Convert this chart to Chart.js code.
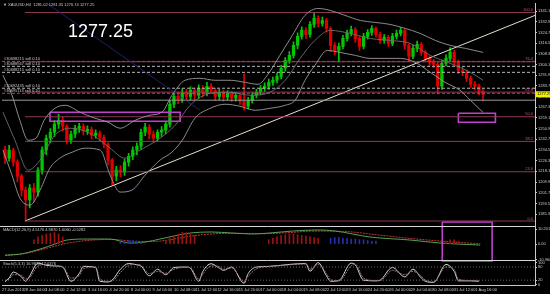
<!DOCTYPE html>
<html><head><meta charset="utf-8">
<script src="https://cdn.jsdelivr.net/npm/chart.js@4.4.1/dist/chart.umd.min.js"></script>
<style>html,body{margin:0;padding:0;background:#000;overflow:hidden}canvas{display:block}</style>
</head><body>
<canvas id="c" width="550" height="294"></canvas>
<script>
// ---------- DATA ----------
const titleText = "\u25BC XAUUSD,H4  1281.02 1281.35 1276.74 1277.25";
const firstOpen = 1235.0;
const closes = [1228.2,1234.4,1225.2,1214.4,1203.7,1196.1,1205.2,1202.2,1219.0,1234.4,
 1243.5,1248.1,1254.3,1257.3,1252.7,1242.0,1246.6,1251.2,1252.7,1248.9,
 1250.4,1245.8,1247.4,1244.3,1238.9,1226.7,1214.4,1219.0,1217.5,1225.2,
 1229.7,1234.4,1237.4,1248.1,1252.0,1246.6,1243.5,1248.1,1249.7,1254.3,
 1269.6,1275.7,1273.4,1278.8,1275.7,1280.3,1276.5,1281.9,1278.0,1283.4,
 1280.3,1275.7,1278.8,1275.0,1278.0,1274.2,1276.5,1271.9,1268.1,1272.7,
 1276.5,1278.8,1281.9,1283.4,1286.4,1288.0,1291.0,1297.2,1303.3,1307.1,
 1314.8,1321.7,1326.3,1323.2,1330.9,1335.5,1331.6,1333.9,1327.8,1314.8,
 1311.0,1314.0,1320.1,1324.0,1327.0,1320.1,1314.0,1321.7,1324.8,1327.8,
 1323.2,1318.6,1320.9,1316.3,1321.7,1324.0,1326.3,1314.8,1306.4,1312.5,
 1315.6,1309.4,1304.8,1301.8,1300.2,1283.4,1301.0,1304.8,1309.4,1301.8,
 1295.6,1294.1,1289.5,1284.9,1283.4,1279.5,1277.25];
const highs = [1237.5,1238.0,1236.0,1227.0,1216.0,1206.0,1208.0,1209.0,1221.0,1237.0,
 1246.0,1251.0,1257.0,1262.0,1260.0,1254.0,1249.0,1253.5,1255.0,1254.5,
 1253.0,1252.0,1250.0,1249.0,1246.0,1240.0,1228.0,1222.0,1222.5,1227.5,
 1232.0,1237.0,1240.0,1250.5,1255.0,1254.0,1249.0,1250.0,1252.5,1256.5,
 1272.5,1278.5,1279.0,1281.5,1281.0,1283.0,1282.0,1284.5,1284.0,1286.5,
 1285.5,1282.0,1281.0,1280.5,1280.0,1279.5,1278.5,1278.0,1293.0,1275.0,
 1278.5,1281.0,1284.0,1286.0,1289.0,1290.5,1293.5,1299.5,1305.5,1310.0,
 1317.5,1324.5,1329.0,1328.5,1333.0,1340.0,1337.5,1336.5,1335.5,1329.0,
 1317.0,1316.5,1322.5,1326.5,1329.5,1328.5,1321.5,1324.0,1327.0,1330.0,
 1329.0,1325.0,1323.0,1322.5,1324.0,1326.5,1328.5,1327.5,1316.0,1315.0,
 1318.0,1317.0,1311.0,1306.5,1304.0,1302.0,1303.5,1307.5,1313.0,1311.0,
 1303.5,1298.0,1296.0,1291.5,1287.0,1285.0,1281.0];
const lows = [1224.0,1226.0,1222.0,1210.0,1199.0,1180.0,1190.0,1195.0,1199.0,1216.0,
 1231.0,1240.0,1245.0,1251.0,1249.0,1239.0,1239.5,1244.0,1248.0,1246.0,
 1246.5,1243.0,1243.5,1241.0,1236.0,1223.0,1207.5,1211.0,1214.0,1215.0,
 1222.0,1227.0,1231.0,1235.0,1245.5,1243.0,1240.5,1241.0,1245.0,1247.0,
 1252.0,1267.0,1270.0,1271.0,1272.5,1273.0,1273.0,1274.0,1275.0,1276.0,
 1278.0,1272.5,1273.0,1272.0,1273.0,1271.5,1272.0,1269.5,1265.0,1266.0,
 1270.5,1274.5,1277.0,1279.5,1281.0,1284.0,1286.0,1289.0,1295.0,1301.0,
 1305.0,1312.0,1319.5,1320.0,1321.0,1328.5,1329.0,1329.5,1325.0,1310.0,
 1307.5,1302.0,1312.0,1318.0,1322.0,1317.0,1311.0,1312.0,1319.5,1322.5,
 1321.0,1316.0,1316.5,1314.0,1314.5,1319.5,1322.0,1312.0,1303.0,1304.5,
 1310.0,1307.0,1302.5,1299.0,1297.5,1277.5,1281.0,1299.0,1302.5,1299.5,
 1293.0,1291.5,1287.0,1282.5,1280.5,1277.0,1271.9];

// Bollinger bands (bar index, price)
const bbUpperX = [-0.5,1.7,3.6,5.6,7.5,9.5,12.1,14.6,18.2,21.8,25.0,27.9,31.6,35.2,38.1,40.5,43.7,47.3,51.0,54.6,58.3,61.4,63.8,66.7,69.7,72.8,76.0,78.9,82.5,86.2,89.8,93.4,97.1,100.7,104.4,108.0,111.7,116.0];
const bbUpper  = [1291.8,1276.5,1257.3,1242.0,1243.5,1257.3,1266.5,1268.8,1263.5,1258.9,1255.8,1251.2,1257.3,1261.2,1263.5,1276.5,1288.0,1289.5,1288.0,1288.0,1286.4,1284.9,1292.6,1307.1,1322.4,1337.8,1343.1,1341.6,1337.8,1333.9,1332.4,1330.9,1327.8,1324.0,1318.6,1314.8,1312.5,1309.4];
const bbMidX   = [-0.5,2.4,5.6,8.5,12.1,15.8,20.6,25.5,29.1,32.8,37.6,41.3,44.9,49.8,54.6,59.5,64.3,68.0,71.6,75.2,78.9,83.7,88.6,93.4,98.3,103.2,108.0,112.9,116.0];
const bbMid    = [1263.5,1242.0,1219.0,1226.7,1245.8,1251.2,1247.4,1235.9,1228.2,1234.4,1243.5,1253.5,1268.8,1278.0,1278.8,1276.5,1278.8,1288.0,1304.8,1318.6,1326.3,1324.0,1320.1,1318.6,1316.3,1307.1,1301.0,1294.1,1288.0];
const bbLowerX = [-0.5,1.7,3.6,6.1,8.5,10.9,13.3,16.3,19.4,23.1,25.5,27.9,30.8,34.0,37.6,40.5,43.0,46.1,49.8,53.4,57.0,60.7,64.3,68.0,70.4,72.8,75.2,78.2,81.3,85.0,88.6,92.2,95.9,99.5,103.2,106.8,110.4,112.9,116.0];
const bbLower  = [1234.4,1215.2,1197.6,1192.2,1203.7,1220.6,1228.2,1232.8,1235.9,1234.4,1215.2,1202.2,1203.7,1215.2,1226.7,1232.8,1242.0,1258.9,1266.5,1269.6,1268.1,1265.0,1266.5,1268.8,1272.7,1288.0,1299.5,1310.9,1309.4,1307.1,1304.8,1304.8,1304.8,1301.8,1294.1,1286.4,1280.3,1272.7,1263.4];

// Fibonacci retracement (from the 28 Jun low to the 23 Jul high)
const fibLabels = ["0.0","23.6","38.2","50.0","61.8","76.4","100.0"];
const fibPrices = [1180.0,1217.8,1241.1,1260.0,1278.9,1302.2,1340.0];
const fibStartX = 4.85;
// trend lines (bar index, price)
const trendX = [4.85, 128.6];
const trendY = [1180.0, 1337.8];
const navyX = [10.4, 47.3];
const navyY = [1346.5, 1265.0];
// order lines
const orderPrices = [1302.5,1298.7,1294.1,1281.9,1278.0];
const orderLabels = ["#30698215 sell 0.10","#30688947 sell 0.10","#30688215 sell 0.10","#30692435 sell 0.10","#30695113 sell 0.10"];
const orderKinds  = ["sl","open","open","open","sl"];
const greyLinePrice = 1272.7;
// boxes: [x0, x1, y0, y1]
const zoneBoxes = [[10.9,42.5,1263.5,1256.6],[110.0,119.0,1262.7,1255.8]];
const macdBox = [106.1,118.2,15.3,-11.7];

// MACD
const macdTitle = "MACD(12,26,9) 4.5176 4.9870 1.0060 -0.5282";
const macdX   = [0,3.6,8.5,12.1,15.0,20,25.5,30.3,34,37.6,41,45,50,55,60,64.3,70,76,80,88.6,98.3,105.6,110,115.3];
const macdMain= [-7.7,-7.0,-3.5,0.0,2.8,3.5,3.5,0.7,1.4,3.5,5.6,7.7,8.4,7.7,7.0,7.7,9.1,9.8,9.1,4.9,2.8,0.7,0.0,-0.7];
const sigX    = [0,5,10,15,20,26,31,36,40,45,50,56,62,68,75,82,90,98,106,112,115.3];
const sigVal  = [-8.0,-6.5,-3.0,0.5,2.5,3.2,2.0,1.8,3.0,5.5,7.0,7.5,7.2,7.8,9.0,8.8,6.5,4.0,2.0,0.8,0.2];
const histUpX = [7,8,9,10,11,12,13,14,39,40,41,42,43,44,45,46,64,65,66,67,68,69,70,71,72,73,74,75,76,107,108,109,110];
const histUp  = [3,5,6,7,7.5,8,7,5,2,4,6,7,8,8,7,6,3,4,5,6,6.5,7,7,6.5,6,5.5,5,4.5,4,2,3,3,2];
const histDnX = [28,29,30,31,32,33,79,80,81,82,83,84,85,86,87,88,89,90];
const histDn  = [1.5,2,2.5,2.5,2,1.5,4,4.5,4.5,4,4,3.5,3.5,3,3,2.5,2,2];
const macdTicks = [10.2015, 0.0, -10.9606];

// Stochastic
const stochTitle = "Stoch(5,3,3) 16.9822 17.0376";
const stochX = [0,1,2,4,5,6,8,10,12,14,16,18,19,22,23,25,26,28,30,32,33,35,37,39,41,44,45,47,48,50,52,53,55,58,59,61,64,69,73,74,76,78,79,81,84,85,87,90,91,94,97,99,101,102,104,107,109,110,113,115];
const stochK = [13,30,57,35,15,40,98,88,85,80,15,50,83,78,15,12,20,70,96,90,85,40,70,45,78,80,75,15,60,95,75,65,80,6,50,80,83,92,96,61,100,40,15,18,98,90,20,17,20,78,35,70,30,15,10,92,60,17,17,15];
const stochD = [18,25,45,42,25,32,85,92,86,82,30,40,72,80,28,15,16,55,88,92,87,50,60,52,70,79,77,25,48,85,82,70,76,15,38,72,82,90,94,70,92,50,22,17,85,93,30,18,18,65,45,60,38,20,12,80,70,25,18,16];
const stochLevels = [80, 20];
const stochTicks = [100, 80, 20, 0];

// axes
const priceTicks = [1341.10,1332.90,1324.70,1316.50,1308.30,1300.10,1291.90,1283.70,1275.50,1267.30,1259.10,1250.90,1242.70,1234.50,1226.30,1218.10,1209.90,1201.70,1193.50,1185.30];
const dateLabels = ["27 Jun 2013","28 Jun 04:00","1 Jul 08:00","2 Jul 12:00","3 Jul 16:00","4 Jul 20:00","8 Jul 00:00","9 Jul 04:00","10 Jul 08:00","11 Jul 12:00","12 Jul 16:00","15 Jul 20:00","17 Jul 00:00","18 Jul 04:00","19 Jul 08:00","22 Jul 12:00","23 Jul 16:00","24 Jul 20:00","26 Jul 00:00","29 Jul 04:00","30 Jul 08:00","31 Jul 12:00","1 Aug 16:00"];

// ---------- BUILD ----------
const X_MIN = -0.73, X_MAX = 128.6;
const DATE_STEP = 5.22;
const opens = closes.map((c, i) => i === 0 ? firstOpen : closes[i - 1]);
const candleCol = closes.map((c, i) => c >= opens[i] ? '#00c800' : '#e00000');
const lastPrice = closes[closes.length - 1];
const pts = (xs, ys) => xs.map((x, i) => ({x, y: ys[i]}));
const hline = (y, x0 = X_MIN) => [{x: x0, y}, {x: X_MAX, y}];
const boxPts = b => [{x:b[0],y:b[2]},{x:b[1],y:b[2]},{x:b[1],y:b[3]},{x:b[0],y:b[3]},{x:b[0],y:b[2]}];
const lineDs = (data, color, extra = {}) => Object.assign({type: 'line', data, borderColor: color, borderWidth: 1, pointRadius: 0, fill: false, tension: 0}, extra);

const datasets = [];
// faint navy line
datasets.push(lineDs(pts(navyX, navyY), 'rgba(40,40,130,0.8)'));
// bands
datasets.push(lineDs(pts(bbUpperX, bbUpper), '#9a9a9a', {borderWidth: 0.9, cubicInterpolationMode: 'monotone'}));
datasets.push(lineDs(pts(bbMidX, bbMid), '#6e6e6e', {borderWidth: 0.9, cubicInterpolationMode: 'monotone'}));
datasets.push(lineDs(pts(bbLowerX, bbLower), '#9a9a9a', {borderWidth: 0.9, cubicInterpolationMode: 'monotone'}));
// fib
fibPrices.forEach(p => datasets.push(lineDs(hline(p, fibStartX), 'rgba(150,60,90,0.95)')));
// grey line
datasets.push(lineDs(hline(greyLinePrice), '#9a9a9a'));
// order lines
orderPrices.forEach((p, i) => datasets.push(lineDs(hline(p), orderKinds[i] === 'sl' ? 'rgba(220,70,80,0.9)' : '#b8b8b8', {borderDash: [3, 2]})));
// trend line
datasets.push(lineDs(pts(trendX, trendY), '#e6e0cc'));
// zone boxes
zoneBoxes.forEach(b => datasets.push(lineDs(boxPts(b), '#c040d0', {borderWidth: 1.6})));
// candles
datasets.push({type: 'bar', data: closes.map((c, i) => ({x: i, y: [lows[i], highs[i]]})), backgroundColor: candleCol, barThickness: 1, grouped: false, borderWidth: 0});
datasets.push({type: 'bar', data: closes.map((c, i) => ({x: i, y: [opens[i], c]})), backgroundColor: candleCol, barThickness: 2.6, grouped: false, borderWidth: 0, minBarLength: 1});
// MACD
datasets.push({type: 'bar', yAxisID: 'macd', data: pts(histUpX, histUp), backgroundColor: '#a01010', barThickness: 1, grouped: false});
datasets.push({type: 'bar', yAxisID: 'macd', data: pts(histDnX, histDn), backgroundColor: '#2030b0', barThickness: 1, grouped: false});
datasets.push(lineDs(pts(macdX, macdMain), '#5aa050', {yAxisID: 'macd', cubicInterpolationMode: 'monotone'}));
datasets.push(lineDs(pts(sigX, sigVal), '#c03a3a', {yAxisID: 'macd', borderDash: [2, 1], cubicInterpolationMode: 'monotone'}));
datasets.push(lineDs(boxPts(macdBox), '#c040d0', {yAxisID: 'macd', borderWidth: 1.6, clip: false}));
// Stoch
stochLevels.forEach(l => datasets.push(lineDs(hline(l), '#6a6a6a', {yAxisID: 'stoch', borderDash: [1, 2]})));
datasets.push(lineDs(pts(stochX, stochD), '#a07070', {yAxisID: 'stoch', borderDash: [2, 1], cubicInterpolationMode: 'monotone'}));
datasets.push(lineDs(pts(stochX, stochK), '#d8d8d8', {yAxisID: 'stoch', cubicInterpolationMode: 'monotone'}));

const tinyFont = {family: 'Liberation Sans', size: 4};
const yAxisBase = (extra) => Object.assign({
  type: 'linear', position: 'right', axis: 'y', stack: 'panels',
  afterFit: s => { s.width = 15; },
  grid: {display: true, drawOnChartArea: false, tickLength: 2, color: '#c8c8c8'},
  border: {display: true, color: '#c8c8c8'},
  ticks: {font: tinyFont, color: '#c8c8c8', padding: 1, autoSkip: false}
}, extra);

const overlay = {
  id: 'overlay',
  beforeDraw(chart) {
    const {ctx, width, height} = chart;
    ctx.save(); ctx.fillStyle = '#000'; ctx.fillRect(0, 0, width, height); ctx.restore();
  },
  afterDraw(chart) {
    const {ctx, chartArea: ca, scales} = chart;
    const y = scales.y, m = scales.macd, s = scales.stoch;
    ctx.save();
    ctx.strokeStyle = '#d8d8d8'; ctx.lineWidth = 1;
    [m.top, s.top].forEach(t => { const yy = Math.round(t) + 0.5; ctx.beginPath(); ctx.moveTo(0, yy); ctx.lineTo(ca.right, yy); ctx.stroke(); });
    ctx.font = '4px "Liberation Sans"'; ctx.fillStyle = '#c8c8c8'; ctx.textBaseline = 'middle'; ctx.textAlign = 'left';
    ctx.fillText(titleText, 3, 5);
    ctx.fillText(macdTitle, 3, m.top + 4);
    ctx.fillText(stochTitle, 3, s.top + 4);
    // order labels
    ctx.textBaseline = 'bottom';
    orderPrices.forEach((p, i) => ctx.fillText(orderLabels[i], 4, y.getPixelForValue(p) - 0.5));
    // fib labels
    ctx.fillStyle = '#b85a7a'; ctx.textAlign = 'right';
    fibPrices.forEach((p, i) => ctx.fillText(fibLabels[i], ca.right - 2, y.getPixelForValue(p) - 0.5));
    // big price
    ctx.textAlign = 'left'; ctx.textBaseline = 'alphabetic';
    ctx.font = '18px "Liberation Sans"'; ctx.fillStyle = '#ffffff';
    ctx.fillText(lastPrice.toFixed(2), 68, 37);
    // last price tag
    const py = y.getPixelForValue(lastPrice);
    ctx.fillStyle = '#f0f000'; ctx.fillRect(ca.right + 1, py - 3, 20, 6);
    ctx.fillStyle = '#000'; ctx.font = '4px "Liberation Sans"'; ctx.textBaseline = 'middle';
    ctx.fillText(lastPrice.toFixed(2), ca.right + 2, py);
    ctx.restore();
  }
};

new Chart(document.getElementById('c'), {
  type: 'bar',
  data: {datasets},
  plugins: [overlay],
  options: {
    responsive: false, animation: false, events: [],
    layout: {padding: {left: 2, top: 3, right: 0, bottom: 0}},
    plugins: {legend: {display: false}, tooltip: {enabled: false}},
    scales: {
      x: {
        type: 'linear', position: 'bottom', min: X_MIN, max: X_MAX, offset: false,
        afterFit: s => { s.height = 9; },
        afterBuildTicks: s => { s.ticks = dateLabels.map((_, k) => ({value: X_MIN + k * DATE_STEP})); },
        grid: {display: true, drawOnChartArea: false, tickLength: 1, color: '#c8c8c8'},
        border: {display: true, color: '#c8c8c8'},
        ticks: {font: tinyFont, color: '#c8c8c8', align: 'start', maxRotation: 0, minRotation: 0, autoSkip: false, padding: 1,
          callback: (v, i) => dateLabels[i]}
      },
      y: yAxisBase({weight: 0, stackWeight: 223, min: 1176.1, max: 1347.0,
        afterBuildTicks: s => { s.ticks = priceTicks.map(v => ({value: v})); },
        ticks: {font: tinyFont, color: '#c8c8c8', padding: 1, autoSkip: false, callback: v => v.toFixed(2)}}),
      macd: yAxisBase({weight: 1, stackWeight: 34, min: -11.1, max: 12.5,
        afterBuildTicks: s => { s.ticks = macdTicks.map(v => ({value: v})); },
        ticks: {font: tinyFont, color: '#c8c8c8', padding: 1, autoSkip: false, callback: v => v === 0 ? '0.00' : v.toFixed(4)}}),
      stoch: yAxisBase({weight: 2, stackWeight: 25, min: -2, max: 112,
        afterBuildTicks: s => { s.ticks = stochTicks.map(v => ({value: v})); },
        ticks: {font: tinyFont, color: '#c8c8c8', padding: 1, autoSkip: false, callback: v => String(v)}})
    }
  }
});
</script>
</body></html>
